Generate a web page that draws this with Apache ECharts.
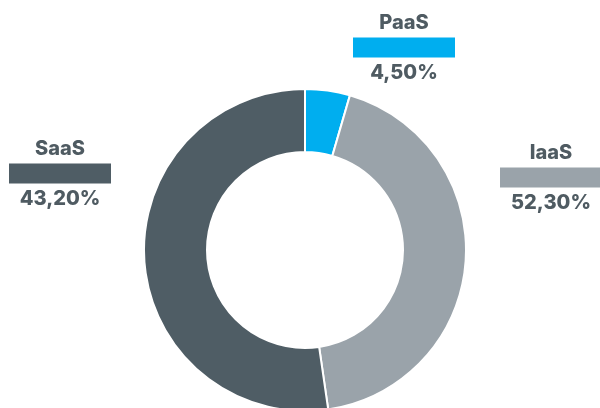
<!DOCTYPE html>
<html><head>
<meta charset="utf-8">
<title>Cloud</title>
<script src="https://cdn.jsdelivr.net/npm/echarts@6/dist/echarts.min.js"></script>
<style>
html,body{margin:0;padding:0;background:#fff;}
#main{width:600px;height:408px;}
</style>
</head>
<body>
<div id="main"></div>
<script type="text/javascript">
// data
var names = ['PaaS', 'IaaS', 'SaaS'];
// slice sizes as drawn in the picture
var sliceShare = [4.5, 43.2, 52.3];
// percentages as printed on the labels
var labelShare = [4.5, 52.3, 43.2];
var colors = ['#00aeef', '#9aa3aa', '#4f5d65'];
// where each label block sits (center x, top y)
var labelPos = [[404, 10], [551, 140], [60, 136]];

var textColor = '#4f5b62';

var seriesData = [];
for (var i = 0; i < names.length; i++) {
    seriesData.push({
        name: names[i],
        value: sliceShare[i],
        itemStyle: { color: colors[i] },
        label: {
            rich: {
                bar: { backgroundColor: colors[i], width: 102, height: 20, lineHeight: 25, align: 'center' }
            }
        }
    });
}

var myChart = echarts.init(document.getElementById('main'));

var option = {
    animation: false,
    series: [{
        type: 'pie',
        center: [305, 250],
        radius: [98, 161],
        startAngle: 90,
        clockwise: true,
        itemStyle: { borderColor: '#fff', borderWidth: 2 },
        label: {
            show: true,
            overflow: 'none',
            formatter: function (p) {
                var pct = labelShare[p.dataIndex].toFixed(2).replace('.', ',') + '%';
                return '{n|' + p.name + '}\n{bar|}\n{p|' + pct + '}';
            },
            rich: {
                n: { fontFamily: 'Inter', fontWeight: 800, fontSize: 20, color: textColor, lineHeight: 25, align: 'center' },
                p: { fontFamily: 'Inter', fontWeight: 800, fontSize: 20, color: textColor, lineHeight: 25, align: 'center' },
                bar: { width: 102, height: 20, lineHeight: 25, align: 'center' }
            }
        },
        labelLine: { show: false },
        labelLayout: function (params) {
            var pos = labelPos[params.dataIndex];
            return { x: pos[0], y: pos[1], align: 'center', verticalAlign: 'top' };
        },
        emphasis: { disabled: true },
        data: seriesData
    }]
};

myChart.setOption(option);
</script>
</body>
</html>
